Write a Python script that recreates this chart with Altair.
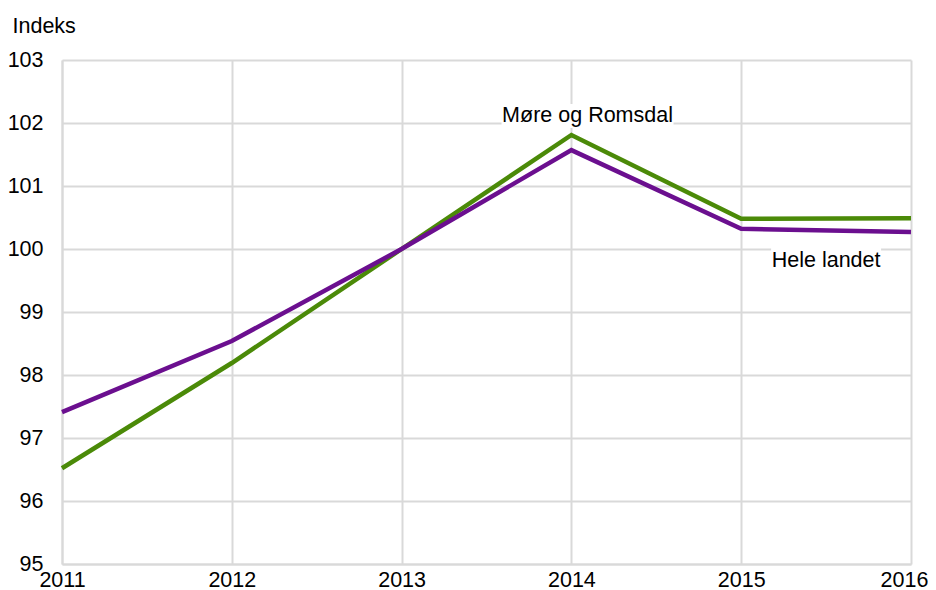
import altair as alt
import pandas as pd

years = [2011, 2012, 2013, 2014, 2015, 2016]
more_romsdal = [96.52, 98.19, 100.0, 101.81, 100.48, 100.49]
hele_landet = [97.41, 98.54, 100.0, 101.57, 100.32, 100.27]
series_names = ["Møre og Romsdal", "Hele landet"]
colors = ["#4b8a08", "#6b0f8f"]

label_text = ["Møre og Romsdal", "Hele landet"]
label_x = [2014.095, 2015.5]
label_y = [102.11, 99.81]
label_box_w = [172, 110]
label_box_h = [24, 32]

rows = []
for name, vals in zip(series_names, [more_romsdal, hele_landet]):
    for y, v in zip(years, vals):
        rows.append({"year": y, "value": v, "series": name})
df = pd.DataFrame(rows)
lab = pd.DataFrame({"text": label_text, "x": label_x, "y": label_y})

FONT = "Liberation Sans"
FS = 21.5
xs = alt.Scale(domain=[2011, 2016], nice=False)
ys = alt.Scale(domain=[95, 103], nice=False)

base = alt.Chart(df).encode(
    x=alt.X("year:Q", scale=xs, axis=alt.Axis(
        values=years, format="d", title=None, grid=True, gridColor="#d9d9d9", gridWidth=2,
        domainColor="#d9d9d9", domainWidth=2, ticks=False, labelFontSize=FS, labelFont=FONT,
        labelColor="#000000", labelPadding=5, labelFlush=False,
        labelOffset={"condition": {"test": "datum.value == 2016", "value": -7}, "value": 0})),
    y=alt.Y("value:Q", scale=ys, axis=alt.Axis(
        values=list(range(95, 104)), format="d", grid=True, gridColor="#d9d9d9", gridWidth=2,
        domainColor="#d9d9d9", domainWidth=2, ticks=False, labelFontSize=FS, labelFont=FONT,
        labelColor="#000000", labelPadding=19,
        title="Indeks", titleAngle=0, titleX=-50, titleY=-28, titleAlign="left",
        titleBaseline="alphabetic", titleFont=FONT, titleFontSize=FS, titleFontWeight="normal",
        titleColor="#000000")),
)

lines = base.mark_line(strokeWidth=4.5).encode(
    color=alt.Color("series:N", scale=alt.Scale(domain=series_names, range=colors), legend=None)
)

boxes = []
for t, w, h in zip(label_text, label_box_w, label_box_h):
    boxes.append(
        alt.Chart(lab).transform_filter(alt.datum.text == t)
        .mark_rect(color="white", width=w, height=h)
        .encode(x=alt.X("x:Q", scale=xs), y=alt.Y("y:Q", scale=ys))
    )
texts = alt.Chart(lab).mark_text(fontSize=FS, font=FONT, color="#000000", align="center", baseline="middle").encode(
    x=alt.X("x:Q", scale=xs), y=alt.Y("y:Q", scale=ys), text="text:N"
)

chart = alt.layer(lines, *boxes, texts).properties(
    width=849, height=504,
    autosize=alt.AutoSizeParams(type="none"),
    padding={"left": 54, "top": 52, "right": 17, "bottom": 26},
).configure_view(stroke=None)

chart.save("out.html", embed_options={"renderer": "svg", "actions": False})
